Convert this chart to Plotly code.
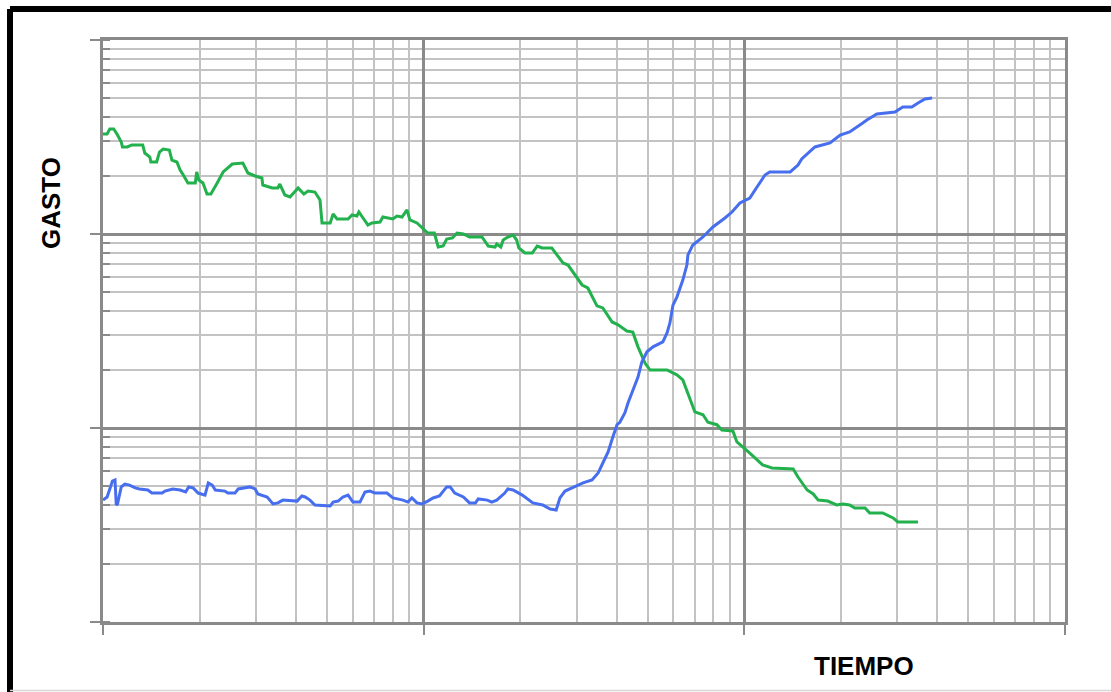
import plotly.graph_objects as go

# ---- data (log-log axes, 1..1000 on both) ----
green_t = [1.00, 1.03, 1.05, 1.08, 1.11, 1.14, 1.15, 1.19, 1.23, 1.33,
           1.35, 1.40, 1.41, 1.47, 1.50, 1.54, 1.61, 1.64, 1.70, 1.74,
           1.78, 1.84, 1.94, 1.96, 1.99, 2.05, 2.11, 2.17, 2.27, 2.37,
           2.53, 2.73, 2.83, 2.98, 3.13, 3.15, 3.37, 3.51, 3.56, 3.69,
           3.83, 4.06, 4.23, 4.36, 4.58, 4.75, 4.82, 5.11, 5.22, 5.37,
           5.81, 5.98, 6.19, 6.28, 6.47, 6.70, 6.90, 7.31, 7.46, 8.02,
           8.25, 8.56, 8.87, 9.06, 9.53, 9.88, 10.3, 10.8, 11.1, 11.5,
           11.8, 12.3, 12.7, 13.3, 13.9, 15.2, 15.9, 16.7, 16.9, 17.4,
           17.7, 18.3, 19.0, 19.5, 19.8, 20.7, 21.8, 22.6, 23.4, 25.1,
           26.0, 27.2, 28.2, 30.1, 31.2, 32.5, 34.7, 36.2, 38.7, 40.4,
           43.0, 44.9, 46.6, 49.0, 50.8, 57.4, 61.6, 64.3, 67.7, 70.1,
           74.3, 77.0, 82.1, 85.1, 92.1, 94.8, 104, 114, 122, 142,
           147, 157, 164, 170, 182, 194, 203, 213, 221, 238,
           246, 270, 291, 301, 348]
green_q = [327.8, 327.8, 347.7, 347.7, 323.9, 298.0, 280.9, 280.9, 287.6, 287.6,
           261.5, 249.4, 235.0, 235.0, 264.7, 274.2, 271.0, 240.6, 235.0, 213.8,
           201.4, 183.2, 183.2, 208.8, 189.8, 183.2, 160.8, 160.8, 183.2, 208.8,
           229.5, 232.3, 206.3, 199.1, 194.4, 178.9, 172.7, 172.7, 181.0, 158.9,
           155.1, 172.7, 160.8, 166.6, 164.6, 149.7, 114.0, 114.0, 126.8, 119.5,
           119.5, 125.3, 123.8, 129.8, 120.9, 111.3, 114.0, 115.3, 122.3, 119.5,
           123.8, 122.3, 133.0, 118.1, 114.0, 107.4, 101.2, 101.2, 85.7, 86.7,
           94.2, 95.4, 101.2, 100.0, 96.5, 96.5, 86.7, 85.7, 88.8, 85.7,
           93.1, 96.5, 98.8, 93.1, 84.7, 79.8, 79.8, 86.7, 84.7, 84.7,
           78.0, 70.9, 69.2, 59.3, 54.6, 52.7, 42.6, 41.6, 35.2, 34.0,
           31.6, 31.2, 26.2, 21.6, 19.9, 19.9, 18.8, 17.7, 13.9, 12.1,
           11.7, 10.7, 10.4, 9.76, 9.65, 8.47, 7.43, 6.45, 6.22, 6.15,
           5.59, 4.79, 4.57, 4.25, 4.20, 4.01, 4.06, 4.01, 3.87, 3.87,
           3.65, 3.65, 3.44, 3.28, 3.28]

blue_t = [1.00, 1.03, 1.07, 1.09, 1.10, 1.11, 1.14, 1.17, 1.21, 1.26,
          1.30, 1.38, 1.42, 1.53, 1.56, 1.65, 1.74, 1.81, 1.85, 1.91,
          1.98, 2.08, 2.13, 2.19, 2.24, 2.40, 2.45, 2.58, 2.64, 2.87,
          2.98, 3.04, 3.25, 3.32, 3.39, 3.51, 3.64, 4.03, 4.17, 4.27,
          4.42, 4.58, 5.11, 5.22, 5.41, 5.60, 5.81, 6.02, 6.33, 6.56,
          6.80, 7.05, 7.68, 8.02, 8.62, 8.93, 9.19, 9.53, 9.88, 10.3,
          10.7, 11.2, 11.8, 12.1, 12.5, 13.3, 13.9, 14.5, 14.8, 15.8,
          16.3, 16.9, 17.3, 17.9, 18.3, 19.0, 20.3, 21.1, 21.9, 23.5,
          24.8, 25.9, 26.6, 27.6, 29.0, 30.3, 31.4, 33.5, 35.0, 36.2,
          37.6, 38.9, 40.1, 40.9, 42.4, 43.4, 44.0, 45.6, 46.6, 47.9,
          49.7, 51.9, 55.7, 57.4, 58.6, 59.9, 61.6, 64.3, 66.2, 66.7,
          69.1, 74.3, 79.8, 87.0, 91.5, 96.9, 104, 109, 116, 120,
          139, 147, 151, 166, 185, 199, 213, 234, 241, 259,
          295, 312, 333, 348, 366, 385]
blue_q = [4.25, 4.41, 5.33, 5.40, 4.01, 4.06, 4.97, 5.14, 5.08, 4.91,
          4.85, 4.79, 4.62, 4.62, 4.73, 4.85, 4.79, 4.68, 4.97, 4.91,
          4.62, 4.51, 5.21, 5.08, 4.79, 4.73, 4.62, 4.62, 4.85, 4.97,
          4.85, 4.57, 4.41, 4.25, 4.06, 4.11, 4.25, 4.20, 4.46, 4.41,
          4.25, 4.01, 3.96, 4.15, 4.20, 4.41, 4.51, 4.15, 4.15, 4.68,
          4.73, 4.62, 4.62, 4.36, 4.25, 4.15, 4.36, 4.11, 4.06, 4.20,
          4.36, 4.46, 4.97, 4.97, 4.62, 4.41, 4.11, 4.11, 4.31, 4.25,
          4.15, 4.25, 4.41, 4.62, 4.85, 4.79, 4.51, 4.31, 4.11, 4.01,
          3.82, 3.78, 4.36, 4.73, 4.91, 5.08, 5.21, 5.40, 5.86, 6.60,
          7.52, 8.99, 10.4, 10.7, 11.95, 13.5, 14.3, 16.3, 18.3, 21.9,
          24.7, 26.2, 27.8, 30.9, 34.8, 43.0, 47.3, 57.9, 69.2, 78.0,
          87.8, 96.5, 108.7, 120.9, 129.8, 144.5, 153.3, 172.7, 201.4, 208.8,
          208.8, 226.8, 243.6, 280.9, 294.5, 323.9, 335.6, 373.5, 386.9, 415.5,
          425.5, 451.3, 451.3, 473.4, 496.5, 502.4]

x_title = "TIEMPO"
y_title = "GASTO"

GREEN = "#22B14C"
BLUE = "#476EEE"
MAJOR = "#8a8a8a"
MINOR = "#c3c3c3"

W, H = 1111, 692
L, R, T, B = 103, 46, 40, 70
PW, PH = W - L - R, H - T - B


def px(x):
    return (x - L) / PW


def py(y):
    return (H - B - y) / PH


fig = go.Figure()
fig.add_trace(go.Scatter(x=green_t, y=green_q, mode="lines",
                         line=dict(color=GREEN, width=3), showlegend=False))
fig.add_trace(go.Scatter(x=blue_t, y=blue_q, mode="lines",
                         line=dict(color=BLUE, width=3), showlegend=False))

axis_common = dict(
    type="log", range=[0, 3], dtick=1,
    showticklabels=False, ticks="outside", ticklen=10, tickwidth=2, tickcolor=MAJOR,
    showgrid=True, gridcolor=MAJOR, gridwidth=3,
    showline=True, linecolor=MAJOR, linewidth=3, mirror=True,
    zeroline=False,
)

fig.update_xaxes(**axis_common,
                 minor=dict(dtick="D1", showgrid=True, gridcolor=MINOR, gridwidth=2))
fig.update_yaxes(**axis_common,
                 minor=dict(dtick="D1", showgrid=True, gridcolor=MINOR, gridwidth=2,
                            ticks="inside", ticklen=7, tickwidth=2, tickcolor=MAJOR))

shapes = [
    # black frame (top and left)
    dict(type="line", xref="paper", yref="paper", x0=px(10), y0=py(9), x1=px(W + 5), y1=py(9),
         line=dict(color="black", width=6), layer="above"),
    dict(type="line", xref="paper", yref="paper", x0=px(10), y0=py(9), x1=px(10), y1=py(H + 5),
         line=dict(color="black", width=6), layer="above"),
    # faint bottom line
    dict(type="line", xref="paper", yref="paper", x0=px(10), y0=py(690.5), x1=px(W + 5), y1=py(690.5),
         line=dict(color="#d8d8d8", width=1.5), layer="above"),
]

FONT = dict(family="Liberation Sans, Arial, sans-serif", size=26, color="black")
annotations = [
    dict(text="<b>" + y_title + "</b>", xref="paper", yref="paper", x=px(51), y=py(203),
         showarrow=False, textangle=-90, xanchor="center", yanchor="middle", font=FONT),
    dict(text="<b>" + x_title + "</b>", xref="paper", yref="paper", x=px(864), y=py(666),
         showarrow=False, xanchor="center", yanchor="middle", font=FONT),
]

fig.update_layout(
    width=W, height=H,
    margin=dict(l=L, r=R, t=T, b=B, pad=0),
    paper_bgcolor="white", plot_bgcolor="white",
    shapes=shapes, annotations=annotations,
    showlegend=False,
)

fig.write_html(
    "out.html",
    config={"displayModeBar": False},
    post_script="document.body.style.margin='0';document.body.style.overflow='hidden';",
)
